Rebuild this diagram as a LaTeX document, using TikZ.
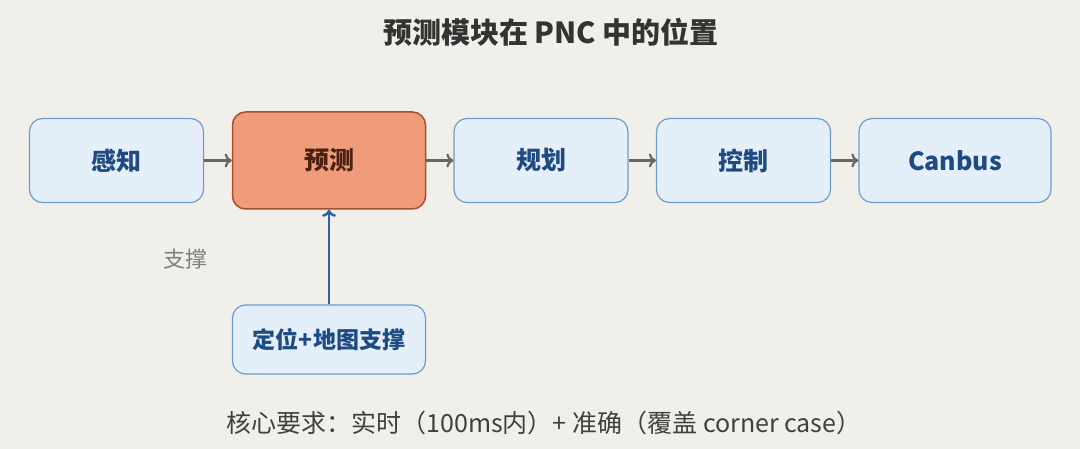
\documentclass[tikz,border=0pt]{standalone}
\usepackage{fontspec}
\setmainfont{Noto Sans CJK SC}
\usetikzlibrary{arrows.meta}
\definecolor{bg}{HTML}{F0EFEA}
\definecolor{bfill}{HTML}{E5EFFA}
\definecolor{bdraw}{HTML}{6F9BCB}
\definecolor{btext}{HTML}{1E4C82}
\definecolor{pfill}{HTML}{F09C7B}
\definecolor{pdraw}{HTML}{A8502D}
\definecolor{ptext}{HTML}{4A2212}
\definecolor{arr}{HTML}{666666}
\definecolor{blarr}{HTML}{2B62A6}
\tikzset{
  mod/.style={draw=bdraw, fill=bfill, line width=1.2pt, rounded corners=13pt,
    minimum width=174pt, minimum height=84pt, text=btext,
    font=\fontsize{25}{30}\selectfont\bfseries, inner sep=0pt},
  hot/.style={draw=pdraw, fill=pfill, line width=1.5pt, rounded corners=13pt,
    minimum width=193pt, minimum height=97pt, text=ptext,
    font=\fontsize{25}{30}\selectfont\bfseries, inner sep=0pt},
  flow/.style={draw=arr, line width=2.2pt, -{To[length=7pt,width=14pt,line width=2.2pt]}},
  sup/.style={draw=blarr, line width=2.4pt, -{To[length=7pt,width=14pt,line width=2.4pt]}},
}
\begin{document}
\begin{tikzpicture}[x=1pt,y=-1pt]
\fill[bg] (0,0) rectangle (1080,449);
\useasboundingbox (0,0) rectangle (1080,449);
\node[text=black!80, font=\fontsize{29}{34}\selectfont\bfseries] (title) at (551,32) {预测模块在 PNC 中的位置};
\node[mod] (perc) at (116.5,160.5) {感知};
\node[hot] (pred) at (329,160.5) {预测};
\node[mod] (plan) at (541,160.5) {规划};
\node[mod] (ctrl) at (743.5,160.5) {控制};
\node[mod, minimum width=192pt] (can) at (955,160.5) {Canbus};
\node[mod, minimum width=193pt, minimum height=69pt, font=\fontsize{23}{28}\selectfont\bfseries] (loc) at (329,339.5) {定位+地图支撑};
\node[text=black!50, font=\fontsize{22}{26}\selectfont] (suplbl) at (185,259) {支撑};
\node[text=black!75, font=\fontsize{25}{30}\selectfont] (req) at (544,423) {核心要求：实时（100ms内）+ 准确（覆盖 corner case）};
\draw[flow] (perc) -- (pred);
\draw[flow] (pred) -- (plan);
\draw[flow] (plan) -- (ctrl);
\draw[flow] (ctrl) -- (can);
\draw[sup] (loc) -- (pred);
\end{tikzpicture}
\end{document}
